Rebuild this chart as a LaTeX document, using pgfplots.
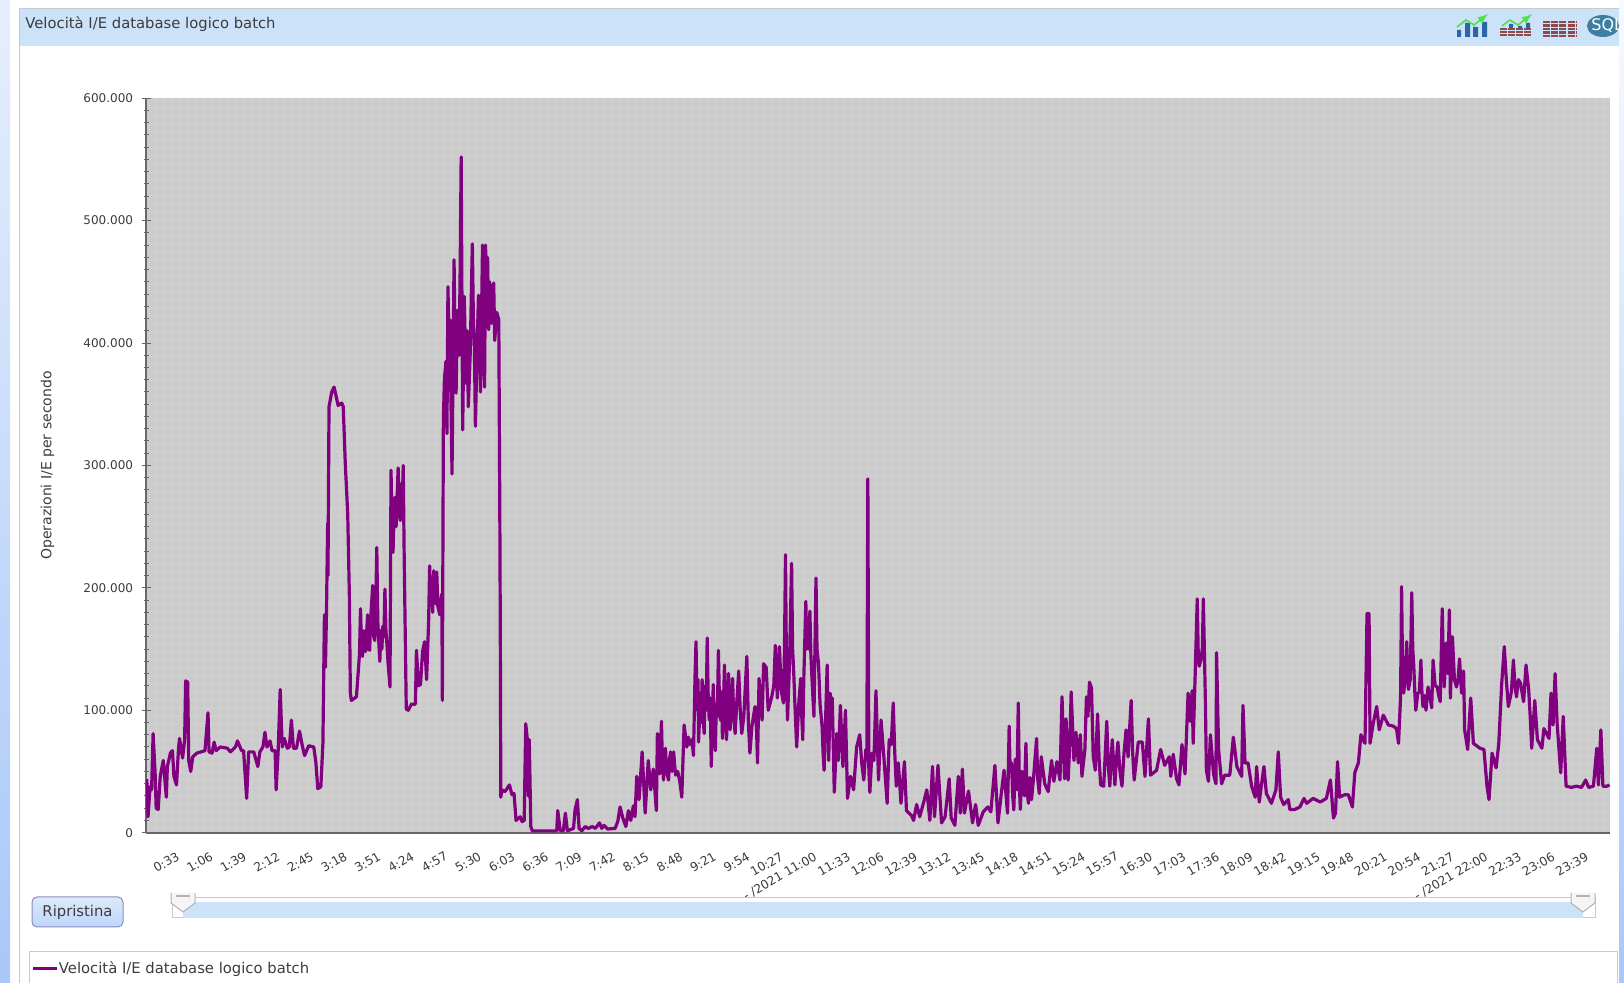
\documentclass[border=0pt]{standalone}
\usepackage{pgfplots}
\pgfplotsset{compat=1.18}
\usepackage{fontspec}
\setmainfont{DejaVu Sans}
\definecolor{header}{HTML}{CCE2F8}
\definecolor{strip}{HTML}{A9C8F8}
\definecolor{plotbg}{HTML}{CBCBCB}
\definecolor{plotgrid}{HTML}{CFCFCF}
\definecolor{serie}{HTML}{800080}
\definecolor{assi}{HTML}{666666}
\definecolor{testo}{HTML}{3C3C3C}
\definecolor{bordo}{HTML}{C4CAD6}
\definecolor{barre}{HTML}{2A67A8}
\definecolor{mattoni}{HTML}{8B4A50}
\definecolor{freccia}{HTML}{50E050}
\definecolor{sql}{HTML}{3D7FA0}
\begin{document}
\begin{tikzpicture}
\path[use as bounding box] (0,0) rectangle (812pt,491.5pt);
% pagina: pixel del riferimento, 1 px = 0.5pt
\begin{scope}[x=0.5pt,y=-0.5pt,shift={(0,491.5pt)}]
\shade[top color=strip!30,bottom color=strip] (0,0) rectangle (10,983);
\shade[top color=strip!10,bottom color=strip] (1619,0) rectangle (1624,983);
\draw[bordo,line width=0.5pt] (19.5,8.5) -- (1619,8.5);
\draw[bordo,line width=0.5pt] (19.5,8.5) -- (19.5,983);
\fill[header] (20,9) rectangle (1619,46);
\node[anchor=west,text=testo,font=\fontsize{7.4pt}{9pt}\selectfont,inner sep=0pt] at (25,24.5) {Velocità I/E database logico batch};
% icone della barra
\fill[barre] (1457,30) rectangle +(4,7) (1465,23) rectangle +(5,14) (1473,27) rectangle +(5,10) (1482,22) rectangle +(5,15);
\draw[freccia,line width=0.8pt,-latex] (1457,27) -- (1466,20) -- (1474,25) -- (1488,14);
\fill[barre] (1509,24) rectangle +(4,5) (1518,26) rectangle +(4,3) (1526,23) rectangle +(4,6);
\foreach \r in {29,32,35}{\draw[mattoni,line width=1pt,dash pattern=on 3.5pt off 0.5pt] (1500,\r) -- (1532,\r);}
\draw[freccia,line width=0.8pt,-latex] (1502,26) -- (1510,20) -- (1518,25) -- (1532,14);
\foreach \r in {22,25.5,29,32.5,36}{\draw[mattoni,line width=1.2pt,dash pattern=on 3.5pt off 0.6pt] (1543,\r) -- (1576,\r);}
\begin{scope}
\clip (1580,10) rectangle (1619,42);
\fill[sql] (1603,26) ellipse (16 and 11);
\node[text=white,font=\fontsize{8pt}{9pt}\selectfont,inner sep=0pt,anchor=west] at (1591,26) {SQL};
\end{scope}
% sfondo del grafico con la griglia fine
\fill[plotbg] (146,98) rectangle (1610,832);
\begin{scope}
\clip (146,98) rectangle (1610,832);
\foreach \gx in {148,156,...,1610}{\draw[plotgrid,line width=1pt] (\gx,98) -- (\gx,832);}
\foreach \gy in {100,108,...,832}{\draw[plotgrid,line width=0.7pt] (146,\gy) -- (1610,\gy);}
\end{scope}
% pulsante e cursore
\draw[rounded corners=2.5pt,draw=blue!30!gray!70,top color=header!70,bottom color=strip!75,line width=0.5pt] (32,897) rectangle (123,927);
\node[text=testo,font=\fontsize{7.4pt}{9pt}\selectfont,inner sep=0pt] at (77.5,912) {Ripristina};
\draw[bordo,line width=0.5pt] (172,898) rectangle (1595,918);
\fill[header] (183,902) rectangle (1583,918);
\foreach \hx in {183,1583}{
  \draw[gray!60,fill=gray!8,line width=0.5pt] (\hx-12,893) -- (\hx-12,903) -- (\hx,912) -- (\hx+12,903) -- (\hx+12,893);
  \draw[gray!60,line width=0.6pt] (\hx-7,896) -- (\hx+7,896);}
\draw[bordo,line width=0.5pt] (29,983) -- (29,952) -- (1617,952) -- (1617,983);
\end{scope}
\begin{axis}[
  at={(73pt,75.15pt)},anchor=south west,
  scale only axis,width=732pt,height=367.25pt,
  xmin=0,xmax=1440,ymin=0,ymax=600000,
  axis x line=bottom,axis y line=left,
  axis line style={-,assi,line width=1pt},
  tick style={assi,line width=0.5pt},
  major tick length=4.5pt,minor tick length=2.5pt,
  xtick={33,66,99,132,165,198,231,264,297,330,363,396,429,462,495,528,561,594,627,660,693,726,759,792,825,858,891,924,957,990,1023,1056,1089,1122,1155,1188,1221,1254,1287,1320,1353,1386,1419},
  xticklabels={0:33,1:06,1:39,2:12,2:45,3:18,3:51,4:24,4:57,5:30,6:03,6:36,7:09,7:42,8:15,8:48,9:21,9:54,10:27,- /2021 11:00,11:33,12:06,12:39,13:12,13:45,14:18,14:51,15:24,15:57,16:30,17:03,17:36,18:09,18:42,19:15,19:48,20:21,20:54,21:27,- /2021 22:00,22:33,23:06,23:39},
  x tick style={draw=none},
  x tick label style={rotate=30,anchor=north east,font=\fontsize{6.1pt}{8pt}\selectfont,text=testo,inner sep=1pt,xshift=-4pt,yshift=-4pt},
  ytick={0,100000,...,600000},
  minor y tick num=9,
  y tick label style={font=\fontsize{6pt}{8pt}\selectfont,text=testo,inner sep=1pt,xshift=-3pt},
  scaled y ticks=false,scaled x ticks=false,
  /pgf/number format/.cd,fixed,1000 sep={.},assume math mode=true,/pgfplots/.cd,
  ylabel={Operazioni I/E per secondo},
  every axis y label/.style={at={(-0.0672,0.5)},rotate=90,anchor=center,font=\fontsize{7pt}{8pt}\selectfont,text=testo},
  legend style={draw=none,fill=none,at={(-0.0779,-0.1855)},anchor=west,font=\fontsize{7.4pt}{9pt}\selectfont,text=testo,inner sep=0pt,outer sep=0pt,nodes={inner sep=0pt}},
  legend image code/.code={\draw[#1,line width=1.5pt] (0pt,0pt) -- (12pt,0pt);},
  legend cell align=left,
  clip=true,
]
\addplot[serie,line width=1.6pt,line join=round] coordinates {
(0.7,44000)(2,13000)(4,37500)(5.5,35000)(7,81000)(9,48000)(10,20000)(12,19000)(14,46000)(17,59000)(20,29000)(21,54000)(24,65000)(26,67000)(27.5,46000)(30,39000)(32,69000)(33,77000)(36,61000)(38,76000)(39,124000)(41,123000)(42,59000)(44,50000)(46,62000)(50,65000)(58,67000)(61,98000)(62,66000)(65,65000)(67,74000)(69,67000)(73,70000)(80,69000)(83,66000)(88,70000)(90,75000)(94,67000)(96,67000)(99,28000)(101,66000)(106,66000)(110,54000)(112,66000)(115,70000)(117,82000)(119,70000)(122,75000)(124,67000)(127,67000)(128,35000)(130,67000)(132,117000)(134,70000)(136,77000)(139,69000)(141,70000)(143,92000)(145,69000)(148,69000)(151,83000)(154,70000)(156,63000)(160,71000)(165,70000)(167,58000)(169,36000)(172,37500)(174,73000)(175.5,178000)(176.5,135000)(177.5,179000)(178.7,253000)(179,210000)(180,348000)(182.7,360000)(185,364000)(189,349000)(192.5,351000)(194,348000)(196,302000)(198.4,261000)(200,195000)(201,114000)(202,108000)(207,111000)(210,146000)(211,183000)(212,150000)(213,144000)(214,165000)(215,157000)(216,148000)(218,178000)(219,150000)(220,149000)(221,175000)(223,202000)(224,160000)(225,157000)(226,185000)(227,233000)(228,173000)(229,155000)(230,140000)(231,165000)(232,150000)(233,169000)(234,160000)(235,199000)(236,165000)(237,154000)(238,140000)(240,119000)(241,296000)(242,250000)(243,229000)(244,260000)(245,274000)(246,250000)(248,298000)(249,270000)(250,255000)(251,285000)(252,265000)(253,300000)(254,222000)(256,101000)(258,100000)(261,105000)(265,105000)(266,149000)(268,120000)(270,121000)(272,148000)(274,156000)(276,125000)(278,173000)(279,218000)(280,190000)(281,198000)(282,180000)(283,214000)(284,190000)(285,187000)(286,213000)(287,185000)(289,178000)(290,190000)(291,195000)(291.5,108000)(292.5,337000)(293.5,370000)(295,385000)(296,326000)(297,446000)(298,400000)(299,419000)(300,350000)(301,293000)(302,380000)(303,468000)(304,400000)(305,359000)(306,410000)(307,427000)(308,390000)(309,460000)(310,552000)(311,400000)(311.5,329000)(312.5,400000)(313,438000)(314,400000)(315,367000)(316,410000)(317,348000)(318,370000)(319,394000)(320,440000)(321,481000)(322,420000)(323,397000)(324,332000)(325.5,390000)(327,439000)(328,400000)(329,360000)(330,420000)(331,480000)(332,410000)(333,364000)(334,480000)(335,430000)(336,470000)(337,411000)(338,450000)(339,443000)(340,416000)(341,440000)(342,449000)(343,402000)(345,425000)(347,419000)(348,263000)(348.5,163000)(349,29000)(350,35000)(353,33500)(357.5,39000)(360,31000)(362,32000)(364,10000)(368,13000)(370,9000)(372,10000)(373.5,89000)(375,77000)(376,30000)(377,76000)(378.5,5000)(380,1500)(404,1500)(405,18000)(407.5,1500)(410.5,1500)(412.5,16000)(414.5,1500)(420.5,3500)(422,18500)(424.3,27000)(426,3500)(428.6,1500)(432,5000)(435,3500)(439,5000)(442,3500)(446,8000)(448.3,3500)(450.5,6000)(454,3000)(461.4,3500)(464,9000)(466.3,21000)(469,12000)(472,5000)(474.5,18000)(476.8,10000)(479.4,22000)(481,13000)(482.7,46000)(485,27000)(488,66000)(491,16000)(494,59000)(496.5,35000)(499,52000)(502,18000)(503,81000)(505,48000)(506,65000)(507,91000)(508,55000)(509,43000)(510,60000)(511,69000)(512,50000)(514,43000)(515,60000)(516,66000)(517.5,50000)(519,66000)(520,55000)(521,47000)(523,50000)(525,42000)(527,29000)(529.3,88000)(532,70000)(533.5,78000)(535,72000)(537,76000)(538.5,63000)(540,127000)(541,156000)(542,100000)(543,125000)(543.5,74000)(545,105000)(546,90000)(547,125000)(548,95000)(549,81000)(550,120000)(551,100000)(552,159000)(553,110000)(554,92000)(555,110000)(556,54000)(557,95000)(558,121000)(559,90000)(560,67000)(561,105000)(562,95000)(563,149000)(564,110000)(565,92000)(566,115000)(567,77000)(568,105000)(569,137000)(570,100000)(571,76000)(572,100000)(573,130000)(574,100000)(574.5,84000)(576,108000)(577,126000)(578,95000)(579.5,81000)(581,105000)(583,132000)(584.5,100000)(586,81000)(588,95000)(591,144000)(592.5,90000)(594,65000)(596,87000)(599,103000)(600.5,85000)(601.5,57000)(603,126000)(604.5,105000)(606,92000)(607.5,138000)(610,135000)(612,100000)(615.5,111000)(617.5,120000)(619,153000)(621,110000)(623,152000)(625,115000)(627,106000)(628,150000)(629,227000)(630,130000)(631,92000)(633,140000)(635,220000)(636,150000)(637,133000)(638.5,100000)(640,70000)(642,105000)(644,126000)(645,95000)(646,76000)(647,125000)(649,189000)(650,150000)(651,175000)(652,150000)(653,181000)(654,145000)(655,127000)(656,110000)(657,95000)(659,208000)(660,150000)(661.5,138000)(663,105000)(665,87000)(666,65000)(667,51000)(670,137000)(671.5,59000)(673,114000)(674,85000)(675,110000)(677,33000)(679.5,81000)(681,59000)(683,104000)(685.5,54000)(688,100000)(690,28000)(693,46000)(696,35000)(699,70000)(702,80000)(704,57000)(706,43000)(708,68000)(709,60000)(710,289000)(711,51000)(712,33000)(714,65000)(716,59000)(718,116000)(720.5,43000)(723,92000)(725.5,65000)(729,24000)(731,76000)(733,72000)(735,106000)(736.5,65000)(738,38000)(740,57000)(742.6,24000)(746,58000)(748,18000)(753,14000)(755,10000)(758,23000)(761,13000)(765,25000)(768,35000)(771,10000)(773.6,54000)(775.6,13000)(779,55000)(782.5,8000)(786,13000)(790,44000)(792,12000)(795.6,6000)(799,46000)(801,16000)(803,52000)(805,16000)(809,34000)(813,8000)(816,23000)(818.6,6000)(823.5,17000)(828,21000)(831,17000)(835,55000)(838,8000)(841,30000)(844,51000)(845.5,35000)(847.4,16000)(849,87000)(850,50000)(851.4,57000)(852.5,30000)(853.6,18600)(855,60000)(856.5,35000)(858,106000)(859,40000)(860,19000)(861.5,50000)(863,48000)(864,30000)(865.5,73000)(866.5,35000)(868,24000)(869.5,45000)(871,27000)(873,45000)(876,77000)(877,45000)(878.6,32000)(880.6,62000)(884,40000)(887.4,33500)(890.7,59000)(893,42000)(896,58000)(899,43000)(901,111000)(903.5,44000)(905,93000)(907,43000)(908.5,70000)(910,115000)(912.7,59000)(914.7,82000)(917,57000)(919,80000)(920.6,46000)(923.5,68000)(925,111000)(926.5,95000)(928,123000)(930,118000)(931.7,62000)(933.7,51000)(936,97000)(937.5,60000)(939,39000)(942,38000)(945,91000)(946.5,55000)(948,38000)(950.4,76000)(953,39000)(954.5,60000)(956,74000)(958,50000)(960,38000)(962,65000)(964,84000)(966,62000)(969,108000)(970.5,65000)(972,43000)(976,74000)(980,74000)(982.6,46000)(986,93000)(988,47000)(994,51000)(998,68000)(1002,55000)(1006.5,62000)(1008,46000)(1010.4,64000)(1013.7,44000)(1016,39000)(1019,72000)(1022,48000)(1025,114000)(1027,91000)(1029,116000)(1030,73000)(1032,130000)(1034,191000)(1035,145000)(1036,136000)(1037.5,141000)(1039,150000)(1040,191000)(1042,108000)(1043,51000)(1045,42000)(1047,80000)(1050,48000)(1052.4,40000)(1053,147000)(1055,68000)(1058,40000)(1061,47000)(1066,47000)(1069.5,78000)(1073,54000)(1077.7,46000)(1079,104000)(1081,57000)(1084,57000)(1087.5,38000)(1091,29000)(1092.4,54000)(1095,25000)(1097,38000)(1099.6,54000)(1102,32000)(1107,24000)(1111.4,35000)(1113.7,66000)(1116,29000)(1119,23000)(1123.6,27000)(1125,19000)(1130,19000)(1135,21000)(1139,28000)(1141.6,24000)(1148,28000)(1155,25000)(1161,28000)(1165,43000)(1168,12000)(1170,16000)(1172,58000)(1174,29000)(1179,31000)(1182.6,31000)(1186.6,21000)(1189,49000)(1192.5,57000)(1195,80000)(1199,73000)(1201,179000)(1203,179000)(1204,73000)(1207,89000)(1210.5,103000)(1213,84000)(1217,96000)(1222,88000)(1227,87000)(1230,85000)(1232,73000)(1234,111000)(1235,201000)(1236,130000)(1237,114000)(1238.5,125000)(1240,156000)(1241.7,117000)(1243.5,125000)(1245,196000)(1246,150000)(1247,136000)(1248,115000)(1249,100000)(1251,114000)(1252.5,115000)(1254,141000)(1255,115000)(1256,103000)(1257.5,112000)(1259,100000)(1261,119000)(1263,110000)(1264.6,102000)(1266,141000)(1268,120000)(1270,119000)(1271.5,112000)(1273,107000)(1275,183000)(1276,140000)(1277,119000)(1279,155000)(1280.5,130000)(1282,182000)(1283,110000)(1285,160000)(1287,125000)(1289,119000)(1290.5,125000)(1292,142000)(1294,114000)(1296,132000)(1297,84000)(1300,68000)(1303,110000)(1305.6,73000)(1312,69000)(1316,68000)(1319,38000)(1321,27000)(1324,65000)(1328,53000)(1330.6,73000)(1333.5,122000)(1336,152000)(1338,125000)(1340,103000)(1343,115000)(1345,141000)(1346.5,120000)(1348,111000)(1350,125000)(1352,122000)(1355,107000)(1357.4,137000)(1360,117000)(1361.5,95000)(1363,69000)(1366,108000)(1368.6,76000)(1373,69000)(1375,85000)(1380,77000)(1382,114000)(1384,88000)(1386,130000)(1388,89000)(1391.5,49000)(1394,95000)(1396.8,38000)(1402,37000)(1407,38000)(1412,37000)(1416,43000)(1419,37000)(1423.7,38000)(1427,69000)(1428.6,39000)(1431,84000)(1433,38000)(1437,38000)(1439.5,39000)
};
\addlegendentry{Velocità I/E database logico batch}
\end{axis}
\end{tikzpicture}
\end{document}
